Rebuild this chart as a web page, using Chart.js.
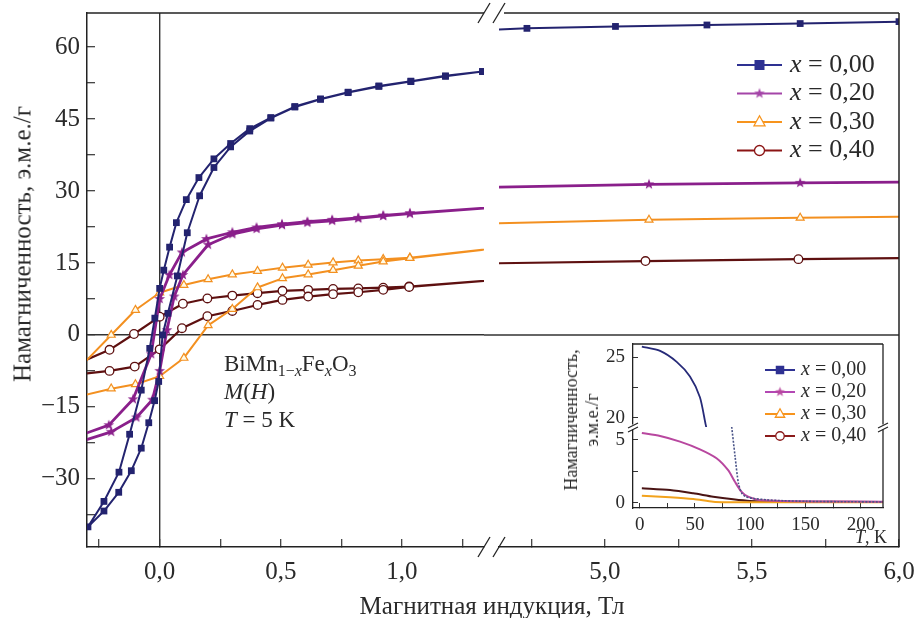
<!DOCTYPE html>
<html lang="ru">
<head>
<meta charset="utf-8">
<title>BiMn1-xFexO3: M(H) и M(T)</title>
<script src="https://cdn.jsdelivr.net/npm/chart.js"></script>
<style>
html,body{margin:0;padding:0;background:#fff;}
#wrap{position:relative;width:917px;height:618px;overflow:hidden;background:#fff;font-family:"Liberation Serif",serif;color:#2a2a2a;}
#wrap canvas{position:absolute;left:0;top:0;}
.lbl{position:absolute;white-space:nowrap;line-height:1;}
#yTitle{left:22px;top:244px;font-size:25px;transform:translate(-50%,-50%) rotate(-90deg);}
#xTitle{left:492px;top:605px;font-size:25px;transform:translate(-50%,-50%);}
#note{left:224px;top:350px;font-size:23px;line-height:28px;}
#note sub{font-size:16px;line-height:0;vertical-align:-5px;}
#insetY{left:582px;top:420px;font-size:18px;line-height:21px;text-align:center;transform:translate(-50%,-50%) rotate(-90deg);}
#insetX{right:30px;top:537px;font-size:18px;transform:translateY(-50%);}
</style>
</head>
<body>
<div id="wrap">
  <canvas id="mainLeft" width="917" height="618"></canvas>
  <canvas id="mainRight" width="917" height="618"></canvas>
  <canvas id="insetTop" width="917" height="618"></canvas>
  <canvas id="insetBottom" width="917" height="618"></canvas>
  <div class="lbl" id="yTitle">Намагниченность, э.м.е./г</div>
  <div class="lbl" id="xTitle">Магнитная индукция, Тл</div>
  <div class="lbl" id="note">BiMn<sub>1−<i>x</i></sub>Fe<sub><i>x</i></sub>O<sub>3</sub><br><i>M</i>(<i>H</i>)<br><i>T</i> = 5 K</div>
  <div class="lbl" id="insetY">Намагниченность,<br>э.м.е./г</div>
  <div class="lbl" id="insetX"><i>T</i>, K</div>
</div>
<script>
// ---------- DATA (main panel: M(H) at T = 5 K, field in T, magnetization in emu/g) ----------
const seriesLabels = ['x = 0,00', 'x = 0,20', 'x = 0,30', 'x = 0,40'];

const fieldX00 = [6.0, 5.664, 5.347, 5.036, 4.735, 1.333, 1.18, 1.037, 0.905, 0.778, 0.664, 0.558, 0.459, 0.372, 0.293, 0.224, 0.162, 0.11, 0.069, 0.041, 0.017, 0.0, -0.02, -0.041, -0.076, -0.124, -0.168, -0.23, -0.296, -0.23, -0.169, -0.117, -0.076, -0.045, -0.021, -0.004, 0.012, 0.034, 0.073, 0.114, 0.165, 0.224, 0.293, 0.372, 0.459, 0.558, 0.664, 0.778, 0.905, 1.037, 1.18, 1.333];
const magX00   = [65.3, 64.9, 64.6, 64.3, 63.9, 54.9, 54.0, 52.9, 51.9, 50.6, 49.2, 47.6, 45.3, 43.0, 39.9, 36.7, 32.8, 28.2, 23.4, 18.3, 13.5, 9.7, 3.5, -2.8, -11.5, -20.7, -28.6, -34.7, -40.0, -36.7, -32.8, -28.3, -23.6, -18.3, -13.7, -9.7, 0.0, 4.5, 12.3, 21.3, 29.0, 34.9, 39.2, 42.5, 45.2, 47.5, 49.1, 50.5, 51.8, 52.8, 53.9, 54.9];

const fieldX20 = [6.17, 5.664, 5.15, 1.55, 1.033, 0.923, 0.82, 0.712, 0.61, 0.505, 0.40, 0.30, 0.193, 0.092, 0.04, 0.0, -0.035, -0.11, -0.21, -0.4, -0.4, -0.2, -0.096, -0.03, 0.0, 0.03, 0.06, 0.096, 0.2, 0.30, 0.40, 0.505, 0.61, 0.712, 0.82, 0.923, 1.033, 1.55];
const magX20   = [31.9, 31.7, 31.4, 27.2, 25.35, 24.9, 24.4, 24.0, 23.6, 23.1, 22.4, 21.4, 20.0, 17.2, 12.5, 7.5, -4.0, -13.4, -18.8, -22.2, -23.4, -20.2, -17.2, -13.5, -7.5, 1.0, 8.0, 12.5, 18.8, 21.0, 22.1, 22.9, 23.4, 23.8, 24.3, 24.8, 25.3, 27.2];

const fieldX30 = [6.17, 5.664, 5.15, 1.55, 1.033, 0.923, 0.82, 0.716, 0.613, 0.507, 0.404, 0.3, 0.2, 0.1, 0.0, -0.1, -0.2, -0.4, -0.4, -0.2, -0.1, 0.0, 0.1, 0.2, 0.3, 0.404, 0.507, 0.613, 0.716, 0.82, 0.923, 1.033, 1.55];
const magX30   = [24.75, 24.4, 24.0, 19.0, 16.1, 15.8, 15.5, 15.1, 14.6, 14.0, 13.3, 12.6, 11.6, 10.4, 8.8, 5.2, 0.0, -10.4, -13.6, -11.2, -10.3, -8.6, -4.8, 2.0, 5.4, 9.9, 11.8, 12.6, 13.5, 14.4, 15.3, 16.0, 19.0];

const fieldX40 = [6.17, 5.658, 5.138, 1.55, 1.03, 0.923, 0.82, 0.716, 0.613, 0.507, 0.404, 0.3, 0.197, 0.096, 0.0, -0.106, -0.207, -0.4, -0.4, -0.207, -0.103, 0.0, 0.092, 0.197, 0.3, 0.404, 0.507, 0.613, 0.716, 0.82, 0.923, 1.03, 1.55];
const magX40   = [16.1, 15.8, 15.4, 12.1, 10.1, 9.85, 9.7, 9.6, 9.4, 9.2, 8.7, 8.2, 7.6, 6.5, 3.8, 0.2, -3.1, -7.3, -8.6, -7.5, -6.6, -3.0, 1.4, 3.9, 5.0, 6.25, 7.3, 8.0, 8.5, 8.9, 9.4, 10.0, 12.1];

// ---------- DATA (inset: M(T), temperature in K) ----------
const tempX00hi = [2, 18.5, 33.5, 45.5, 54.5, 59.6, 62];
const magT00hi  = [25.85, 25.5, 24.6, 23.4, 21.7, 19.5, 18.5];
const tempX00lo = [82.5, 86.3, 89.3, 92.4, 96, 102, 115, 130, 150, 180, 220];
const magT00lo  = [6.6, 3.67, 1.56, 0.77, 0.5, 0.37, 0.25, 0.18, 0.13, 0.1, 0.08];
const tempX20 = [2, 18.5, 36.5, 54.5, 69.5, 80, 86, 92, 98, 108.5, 130, 160, 220];
const magT20  = [5.55, 5.32, 4.87, 4.26, 3.55, 2.6, 1.7, 0.9, 0.5, 0.24, 0.15, 0.12, 0.1];
const tempX30 = [2, 27.5, 48.5, 66.5, 80, 100, 150, 220];
const magT30  = [0.58, 0.46, 0.32, 0.1, 0.06, 0.05, 0.05, 0.05];
const tempX40 = [2, 27.5, 48.5, 66.5, 84.5, 99.5, 130, 220];
const magT40  = [1.17, 1.03, 0.77, 0.5, 0.29, 0.16, 0.1, 0.08];

// ---------- STYLE ----------
const FONT = '"Liberation Serif", serif';
const INK = '#2a2a2a';
const MAIN_COLORS  = ['#23236f', '#8a1f8b', '#f39020', '#5e1010'];
const INSET_COLORS = ['#262a78', '#b8479f', '#f2a21c', '#4a1414'];

function makeStar(color, outer, inner) {
  const s = Math.ceil(outer * 2 + 2);
  const c = document.createElement('canvas');
  c.width = s; c.height = s;
  const g = c.getContext('2d');
  g.fillStyle = color;
  g.beginPath();
  for (let k = 0; k < 10; k++) {
    const r = k % 2 ? inner : outer;
    const ang = -Math.PI / 2 + k * Math.PI / 5;
    const px = s / 2 + r * Math.cos(ang), py = s / 2 + r * Math.sin(ang);
    if (k) g.lineTo(px, py); else g.moveTo(px, py);
  }
  g.closePath(); g.fill();
  return c;
}
const starMain = makeStar(MAIN_COLORS[1], 5.6, 2.3);
const starLegend = makeStar('#a445a8', 5.6, 2.3);
const starInset = makeStar(INSET_COLORS[1], 5.2, 2.1);

const pts = (xs, ys) => xs.map((v, i) => ({x: v, y: ys[i]}));

const mainStyles = [
  {pointStyle: 'rect', pointRadius: 4.8, pointBackgroundColor: MAIN_COLORS[0], pointBorderWidth: 0, borderWidth: 2},
  {pointStyle: starMain, pointRadius: 5, pointBackgroundColor: MAIN_COLORS[1], pointBorderWidth: 0, borderWidth: 2.8},
  {pointStyle: 'triangle', pointRadius: 4.6, pointBackgroundColor: '#fffbe8', pointBorderWidth: 1.2, borderWidth: 2},
  {pointStyle: 'circle', pointRadius: 4.3, pointBackgroundColor: '#ffffff', pointBorderWidth: 1.3, borderWidth: 2.2}
];
const mainData = [[fieldX00, magX00], [fieldX20, magX20], [fieldX30, magX30], [fieldX40, magX40]];

function mainDatasets() {
  return mainData.map((d, i) => Object.assign({
    label: seriesLabels[i],
    data: pts(d[0], d[1]),
    borderColor: MAIN_COLORS[i],
    backgroundColor: MAIN_COLORS[i],
    pointBorderColor: MAIN_COLORS[i],
    showLine: true,
    tension: 0,
    fill: false
  }, mainStyles[i]));
}

// ---------- HELPERS ----------
const isMult = (v, m) => Math.abs(v / m - Math.round(v / m)) < 1e-6;
const fmtField = v => isMult(v, 0.5) ? Math.abs(v).toFixed(1).replace('.', ',') : '';
const fmtMag = v => isMult(v, 15) ? String(Math.round(v)).replace('-', '\u2212') : '';
const zeroOnly = c => (c.tick && Math.abs(c.tick.value) < 1e-9) ? '#333333' : 'rgba(0,0,0,0)';
const noPad = s => { s.paddingTop = 0; s.paddingBottom = 0; s.paddingLeft = 0; s.paddingRight = 0; };

function drawLegendMarker(ctx, kind, x, y, color, size) {
  ctx.save();
  ctx.lineWidth = 1.3;
  ctx.strokeStyle = color;
  if (kind === 'square') {
    ctx.fillStyle = color;
    ctx.fillRect(x - size / 2, y - size / 2, size, size);
  } else if (kind === 'star') {
    const img = size > 9 ? starLegend : starInset;
    ctx.drawImage(img, x - img.width / 2, y - img.height / 2);
  } else if (kind === 'triangle') {
    const h = size;
    ctx.fillStyle = '#ffffff';
    ctx.beginPath();
    ctx.moveTo(x, y - h * 0.62); ctx.lineTo(x + h * 0.55, y + h * 0.38); ctx.lineTo(x - h * 0.55, y + h * 0.38); ctx.closePath();
    ctx.fill(); ctx.stroke();
  } else {
    ctx.fillStyle = '#ffffff';
    ctx.beginPath(); ctx.arc(x, y, size / 2, 0, Math.PI * 2); ctx.fill(); ctx.stroke();
  }
  ctx.restore();
}
const legendKinds = ['square', 'star', 'triangle', 'circle'];

const legendPlugin = {
  id: 'lineLegend',
  afterDraw(chart, args, o) {
    if (!o || !o.show) return;
    const {ctx, chartArea: a} = chart;
    ctx.save();
    o.labels.forEach((lab, i) => {
      const y = a.top + o.top + i * o.gap;
      const x0 = a.right - o.right;
      ctx.strokeStyle = o.colors[i];
      ctx.lineWidth = o.lineWidth;
      ctx.beginPath(); ctx.moveTo(x0, y); ctx.lineTo(x0 + o.len, y); ctx.stroke();
      drawLegendMarker(ctx, legendKinds[i], x0 + o.len / 2, y, o.colors[i], o.marker);
      ctx.fillStyle = INK;
      ctx.textBaseline = 'middle';
      ctx.textAlign = 'left';
      const tx = x0 + o.len + o.textGap;
      ctx.font = 'italic ' + o.fontSize + 'px ' + FONT;
      const head = lab.charAt(0);
      ctx.fillText(head, tx, y);
      const w = ctx.measureText(head).width;
      ctx.font = o.fontSize + 'px ' + FONT;
      ctx.fillText(lab.slice(1), tx + w, y);
    });
    ctx.restore();
  }
};

const framePlugin = {
  id: 'frame',
  beforeDatasetsDraw(chart, args, o) {
    if (!o || !o.zeroLine) return;
    const {ctx, chartArea: a} = chart;
    const y0 = chart.scales.y.getPixelForValue(0);
    ctx.save();
    ctx.strokeStyle = '#333333'; ctx.lineWidth = 1.4;
    ctx.beginPath(); ctx.moveTo(a.left - o.zeroExtendLeft, y0); ctx.lineTo(a.right, y0); ctx.stroke();
    ctx.restore();
  },
  afterDraw(chart, args, o) {
    if (!o) return;
    const {ctx, chartArea: a} = chart;
    ctx.save();
    ctx.strokeStyle = '#222222';
    ctx.lineWidth = o.width || 1.5;
    const seg = (x1, y1, x2, y2) => { ctx.beginPath(); ctx.moveTo(x1, y1); ctx.lineTo(x2, y2); ctx.stroke(); };
    if (o.top) seg(a.left + (o.topStart || 0), a.top, a.right, a.top);
    if (o.right) seg(a.right, a.top, a.right, a.bottom);
    if (o.mainBreak) {
      ctx.lineWidth = 1.3;
      [a.left - 15, a.left].forEach(cx => {
        [a.top, a.bottom].forEach(cy => seg(cx - 6, cy + 10, cx + 6, cy - 10));
      });
    }
    if (o.insetBreak) {
      [a.left, a.right].forEach(cx => {
        const cy = a.top;
        ctx.fillStyle = '#ffffff';
        ctx.fillRect(cx - 2, cy - 2.5, 4, 5);
        ctx.lineWidth = 1.2;
        seg(cx - 5, cy + 1, cx + 5, cy - 4);
        seg(cx - 5, cy + 5, cx + 5, cy);
      });
    }
    ctx.restore();
  }
};

// ---------- SCALE FACTORIES ----------
function fieldAxis(min, max) {
  return {
    type: 'linear', min: min, max: max,
    afterFit: s => { s.height = 71; noPad(s); },
    ticks: {stepSize: 0.25, includeBounds: false, autoSkip: false, maxRotation: 0, maxTicksLimit: 100,
            padding: 18, color: INK, font: {family: FONT, size: 25}, callback: fmtField},
    grid: {color: zeroOnly, lineWidth: 1.4, tickColor: '#333333', tickWidth: 1.2, tickLength: -8},
    border: {color: '#222222', width: 1.5}
  };
}
const MAG_MIN = -44.2, MAG_MAX = 67.1;

const common = {
  responsive: false, animation: false, devicePixelRatio: 1,
  events: [],
  elements: {line: {borderJoinStyle: 'round'}}
};

// ---------- MAIN LEFT (field -0.3 .. 1.34 T) ----------
new Chart(document.getElementById('mainLeft'), {
  type: 'line',
  data: {datasets: mainDatasets()},
  options: Object.assign({}, common, {
    layout: {padding: {left: 0, top: 13, right: 917 - 484, bottom: 0}},
    plugins: {legend: {display: false}, tooltip: {enabled: false},
              frame: {top: true}},
    scales: {
      x: fieldAxis(-0.3, 1.339),
      y: {
        type: 'linear', min: MAG_MIN, max: MAG_MAX,
        afterFit: s => { s.width = 87; noPad(s); },
        ticks: {stepSize: 7.5, includeBounds: false, autoSkip: false, maxTicksLimit: 100,
                padding: 15, color: INK, font: {family: FONT, size: 25}, callback: fmtMag},
        grid: {color: zeroOnly, lineWidth: 1.4, tickColor: '#333333', tickWidth: 1.2, tickLength: -8},
        border: {color: '#222222', width: 1.5}
      }
    }
  }),
  plugins: [framePlugin]
});

// ---------- MAIN RIGHT (field 4.64 .. 6.0 T) ----------
new Chart(document.getElementById('mainRight'), {
  type: 'line',
  data: {datasets: mainDatasets()},
  options: Object.assign({}, common, {
    layout: {padding: {left: 499, top: 13, right: 917 - 899, bottom: 0}},
    plugins: {legend: {display: false}, tooltip: {enabled: false},
              frame: {top: true, topStart: 5, right: true, mainBreak: true, zeroLine: true, zeroExtendLeft: 15},
              lineLegend: {show: true, labels: seriesLabels, colors: ['#2e3192', '#a445a8', '#f7941d', '#8b1414'],
                           top: 52, gap: 28.5, right: 162, len: 45, textGap: 8, lineWidth: 2, marker: 10, fontSize: 26}},
    scales: {
      x: fieldAxis(4.64, 6.0),
      y: {type: 'linear', display: false, min: MAG_MIN, max: MAG_MAX}
    }
  }),
  plugins: [framePlugin, legendPlugin]
});

// ---------- INSET ----------
const T_MIN = -6, T_MAX = 220;
const insetLine = (xs, ys, i, extra) => Object.assign({
  label: seriesLabels[i], data: pts(xs, ys), borderColor: INSET_COLORS[i], backgroundColor: INSET_COLORS[i],
  borderWidth: 2, pointRadius: 0, showLine: true, tension: 0.25, fill: false
}, extra || {});

function insetY(min, max) {
  return {
    type: 'linear', min: min, max: max,
    afterFit: s => { s.width = 40; noPad(s); },
    ticks: {stepSize: 2.5, includeBounds: false, autoSkip: false, maxTicksLimit: 100, padding: 13,
            color: INK, font: {family: FONT, size: 19}, callback: v => isMult(v, 5) ? String(v) : ''},
    grid: {drawOnChartArea: false, tickColor: '#333333', tickWidth: 1, tickLength: -5},
    border: {color: '#222222', width: 1.3}
  };
}

new Chart(document.getElementById('insetTop'), {
  type: 'line',
  data: {datasets: [insetLine(tempX00hi, magT00hi, 0, {borderWidth: 1.8})]},
  options: Object.assign({}, common, {
    layout: {padding: {left: 593, top: 344, right: 917 - 883, bottom: 618 - 427}},
    plugins: {legend: {display: false}, tooltip: {enabled: false}, frame: {top: true, right: true, width: 1.3}},
    scales: {
      x: {type: 'linear', display: false, min: T_MIN, max: T_MAX},
      y: insetY(19.26, 26.07)
    }
  }),
  plugins: [framePlugin]
});

new Chart(document.getElementById('insetBottom'), {
  type: 'line',
  data: {datasets: [
    insetLine(tempX00lo, magT00lo, 0, {borderWidth: 1.6, borderDash: [2, 1.5], borderColor: '#4a5488'}),
    insetLine(tempX20, magT20, 1),
    insetLine(tempX30, magT30, 2),
    insetLine(tempX40, magT40, 3)
  ]},
  options: Object.assign({}, common, {
    layout: {padding: {left: 593, top: 427, right: 917 - 883, bottom: 0}},
    plugins: {legend: {display: false}, tooltip: {enabled: false},
              frame: {right: true, insetBreak: true, width: 1.3},
              lineLegend: {show: true, labels: seriesLabels, colors: ['#2e3192', '#b347b3', '#f7941d', '#8b1a1a'],
                           top: -57, gap: 22, right: 118, len: 30, textGap: 6, lineWidth: 2, marker: 8.5, fontSize: 20}},
    scales: {
      x: {
        type: 'linear', min: T_MIN, max: T_MAX,
        afterFit: s => { s.height = 110; noPad(s); },
        ticks: {stepSize: 25, includeBounds: false, autoSkip: false, maxRotation: 0, maxTicksLimit: 100, padding: 11,
                color: INK, font: {family: FONT, size: 19}, callback: v => isMult(v, 50) ? String(v) : ''},
        grid: {drawOnChartArea: false, tickColor: '#333333', tickWidth: 1, tickLength: -5},
        border: {color: '#222222', width: 1.3}
      },
      y: insetY(-0.4, 6.03)
    }
  }),
  plugins: [framePlugin, legendPlugin]
});
</script>
</body>
</html>
